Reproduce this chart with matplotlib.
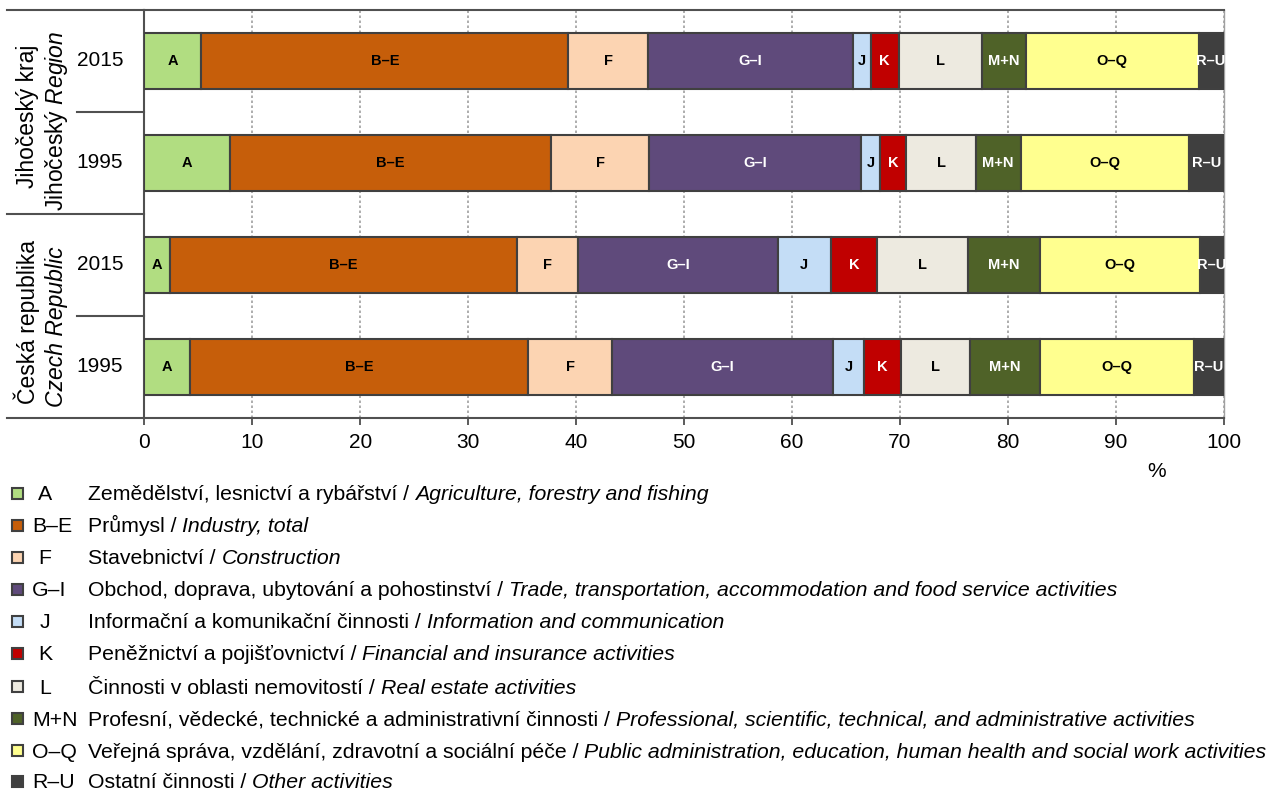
import numpy as np
import matplotlib.pyplot as plt
from matplotlib.patches import Rectangle

plt.rcParams["font.family"] = ["Liberation Sans", "DejaVu Sans"]
plt.rcParams["mathtext.fontset"] = "custom"
plt.rcParams["mathtext.rm"] = "Liberation Sans"
plt.rcParams["mathtext.it"] = "Liberation Sans:italic"

# Podíly odvětví (%)
codes = ["A", "B–E", "F", "G–I", "J", "K", "L", "M+N", "O–Q", "R–U"]
jk_2015 = [5.3, 34.0, 7.35, 19.05, 1.6, 2.6, 7.7, 4.1, 16.0, 2.3]
jk_1995 = [7.9, 29.8, 9.1, 19.6, 1.8, 2.4, 6.45, 4.15, 15.6, 3.2]
cr_2015 = [2.4, 32.1, 5.7, 18.5, 4.9, 4.3, 8.4, 6.7, 14.8, 2.2]
cr_1995 = [4.2, 31.4, 7.7, 20.5, 2.9, 3.4, 6.4, 6.5, 14.3, 2.7]
years = ["2015", "1995", "2015", "1995"]

legend_cz = [
    "Zemědělství, lesnictví a rybářství / ",
    "Průmysl / ",
    "Stavebnictví / ",
    "Obchod, doprava, ubytování a pohostinství / ",
    "Informační a komunikační činnosti / ",
    "Peněžnictví a pojišťovnictví / ",
    "Činnosti v oblasti nemovitostí / ",
    "Profesní, vědecké, technické a administrativní činnosti / ",
    "Veřejná správa, vzdělání, zdravotní a sociální péče / ",
    "Ostatní činnosti / ",
]
legend_en = [
    "Agriculture, forestry and fishing",
    "Industry, total",
    "Construction",
    "Trade, transportation, accommodation and food service activities",
    "Information and communication",
    "Financial and insurance activities",
    "Real estate activities",
    "Professional, scientific, technical, and administrative activities",
    "Public administration, education, human health and social work activities",
    "Other activities",
]

colors = ["#B1DD81", "#C65E0A", "#FCD4B2", "#5F4A7B", "#C4DDF6",
          "#C00000", "#EDEAE0", "#4F6228", "#FFFF8F", "#3F3F3F"]
text_colors = ["black", "black", "black", "white", "black",
               "white", "black", "white", "black", "white"]
edge = "#404040"

W, H = 1277, 792
fig = plt.figure(figsize=(W / 100, H / 100), dpi=100)
x0, x1, y0, y1 = 144.3, 1223.5, 10, 418
ax = fig.add_axes([x0 / W, 1 - y1 / H, (x1 - x0) / W, (y1 - y0) / H])

data = np.array([jk_2015, jk_1995, cr_2015, cr_1995])
ypos = np.arange(4)
left = np.zeros(4)
for j, code in enumerate(codes):
    ax.barh(ypos, data[:, j], left=left, height=0.54, color=colors[j],
            edgecolor=edge, linewidth=1.5, zorder=3)
    for i in range(4):
        ax.text(left[i] + data[i, j] / 2, ypos[i], code, ha="center", va="center",
                fontsize=10.5, fontweight="bold", color=text_colors[j], zorder=4)
    left += data[:, j]

ax.set_xlim(0, 100)
ax.set_ylim(3.5, -0.5)
ax.set_xticks(range(0, 101, 10))
ax.set_yticks([])
ax.tick_params(axis="x", length=5, width=1.2, color=edge, labelsize=15, pad=6)
ax.grid(axis="x", linestyle=(0, (1.5, 1.5)), color="#a0a0a0", linewidth=1.2, zorder=0)
for s in ["top", "bottom", "left"]:
    ax.spines[s].set_color("#505050")
    ax.spines[s].set_linewidth(1.5)
ax.spines["right"].set_color("#a0a0a0")
ax.spines["right"].set_linewidth(1.0)

# čáry vlevo od grafu
yt = ax.get_yaxis_transform()
for yy in [-0.5, 1.5, 3.5]:
    ax.plot([-0.127, 0], [yy, yy], transform=yt, clip_on=False, color="#505050", lw=1.5)
for yy in [0.5, 2.5]:
    ax.plot([-0.0625, 0], [yy, yy], transform=yt, clip_on=False, color="#505050", lw=1.5)

for i, yr in enumerate(years):
    ax.text(-0.041, ypos[i], yr, transform=yt, ha="center", va="center", fontsize=15)

ax.text(-0.1085, 0.54, "Jihočeský kraj", transform=yt, rotation=90,
        ha="center", va="center", fontsize=16.5)
ax.text(-0.0815, 0.59, r"Jihočeský $\mathit{Region}$", transform=yt, rotation=90,
        ha="center", va="center", fontsize=16.5)
ax.text(-0.1085, 2.56, "Česká republika", transform=yt, rotation=90,
        ha="center", va="center", fontsize=16.5)
ax.text(-0.0815, 2.60, "Czech Republic", transform=yt, rotation=90,
        ha="center", va="center", fontsize=16.5, style="italic")

fig.text(1157 / W, 1 - 472 / H, "%", ha="center", va="center", fontsize=15)

# legenda
row_y = [493, 525, 557, 589, 621, 653, 686, 718, 750, 781]
fs = 15.3
fig.canvas.draw()
renderer = fig.canvas.get_renderer()
for k in range(len(codes)):
    yf = 1 - row_y[k] / H
    yb = 1 - (row_y[k] + 7.5) / H
    fig.add_artist(Rectangle(((17 - 5.5) / W, yf - 5.5 / H), 11 / W, 11 / H,
                             transform=fig.transFigure, facecolor=colors[k],
                             edgecolor=edge, linewidth=1.5))
    if len(codes[k]) == 1:
        fig.text(45 / W, yb, codes[k], ha="center", va="baseline", fontsize=fs)
    else:
        fig.text(32 / W, yb, codes[k], ha="left", va="baseline", fontsize=fs)
    t = fig.text(88 / W, yb, legend_cz[k], ha="left", va="baseline", fontsize=fs)
    bb = t.get_window_extent(renderer=renderer)
    fig.text(bb.x1 / W, yb, legend_en[k], ha="left", va="baseline", fontsize=fs,
             style="italic")

fig.savefig("out.png", dpi=100)
